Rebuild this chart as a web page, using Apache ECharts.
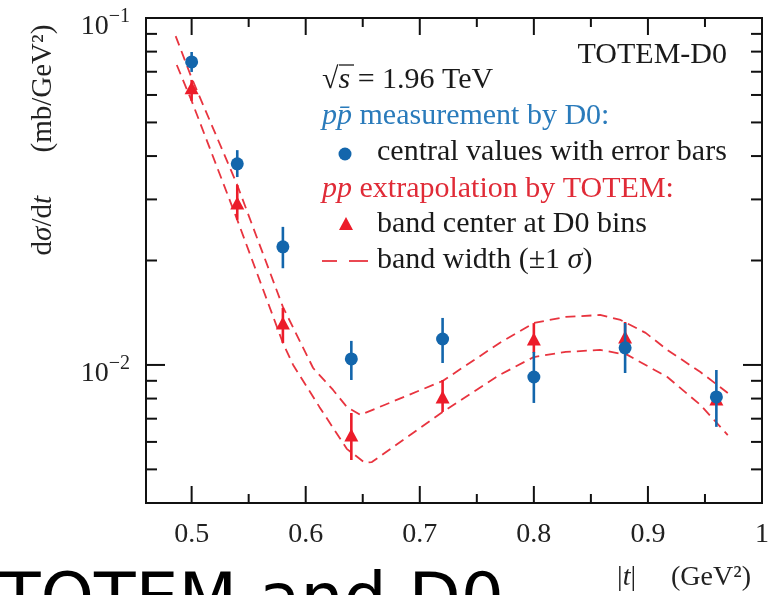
<!DOCTYPE html>
<html><head><meta charset="utf-8">
<script src="https://cdn.jsdelivr.net/npm/echarts@6/dist/echarts.min.js"></script>
<style>html,body{margin:0;padding:0;background:#fff}#c{width:782px;height:595px}</style>
</head><body><div id="c"></div>
<script>
// ---- data ----
const tBins = [0.50, 0.54, 0.58, 0.64, 0.72, 0.80, 0.88, 0.96];
const d0Values  = [0.0747, 0.0380, 0.0219, 0.01041, 0.01188, 0.00923, 0.0112, 0.00809];
const d0ErrLow  = [0.0699, 0.0348, 0.0190, 0.00905, 0.01013, 0.00777, 0.00948, 0.00663];
const d0ErrHigh = [0.0798, 0.0416, 0.0250, 0.01173, 0.01366, 0.0109, 0.0132, 0.00967];
const totemValues = [0.0629, 0.0293, 0.0132, 0.00628, 0.00809, 0.01188, 0.01204, 0.00798];
const totemLow    = [0.0577, 0.0262, 0.01157, 0.00532, 0.00732, 0.01083, 0.01105, 0.00767];
const totemHigh   = [0.0663, 0.0330, 0.0146, 0.00727, 0.00905, 0.0132, 0.0133, 0.00836];
const bandUpperT = [0.486, 0.500, 0.540, 0.580, 0.6065, 0.624, 0.636, 0.648, 0.720, 0.770, 0.800, 0.828, 0.858, 0.876, 0.898, 0.917, 0.946, 0.970];
const bandUpperV = [0.0887, 0.0672, 0.0330, 0.0147, 0.0098, 0.00847, 0.00757, 0.00718, 0.00899, 0.01157, 0.01321, 0.01375, 0.01393, 0.01348, 0.01237, 0.01105, 0.00954, 0.00830];
const bandLowerT = [0.487, 0.500, 0.540, 0.580, 0.589, 0.612, 0.636, 0.652, 0.658, 0.720, 0.770, 0.800, 0.828, 0.858, 0.882, 0.917, 0.946, 0.970];
const bandLowerV = [0.0732, 0.0577, 0.0262, 0.01157, 0.0100, 0.00757, 0.00573, 0.00522, 0.00525, 0.00732, 0.00936, 0.01054, 0.01090, 0.01105, 0.01069, 0.00923, 0.00767, 0.00628];
const xMajorTicks = [0.5, 0.6, 0.7, 0.8, 0.9, 1.0];
const xMinorTicks = [0.55, 0.65, 0.75, 0.85, 0.95];
const yMajorTicks = [0.01, 0.1];
const yMinorTicks = [0.005, 0.006, 0.007, 0.008, 0.009, 0.02, 0.03, 0.04, 0.05, 0.06, 0.07, 0.08, 0.09];

// ---- style ----
const BLUE = '#1366ac', BLUE_T = '#2a7bbb', RED = '#ec1c2a', RED_L = '#e8343f', RED_T = '#e02b37';
const SERIF = '"Liberation Serif", "Times New Roman", serif';
const TXT = '#1a1a1a';

const zip = (a, b) => a.map((v, i) => [v, b[i]]);

function errRender(color) {
  return function (params, api) {
    const p1 = api.coord([api.value(0), api.value(1)]);
    const p2 = api.coord([api.value(0), api.value(2)]);
    return { type: 'line', shape: { x1: p1[0], y1: p1[1], x2: p2[0], y2: p2[1] },
      style: { stroke: color, lineWidth: 2.6 } };
  };
}
function xTickRender(len) {
  return function (params, api) {
    const cs = params.coordSys;
    const x = api.coord([api.value(0), 0.01])[0];
    const b = cs.y + cs.height, t = cs.y;
    return { type: 'group', children: [
      { type: 'line', shape: { x1: x, y1: b, x2: x, y2: b - len }, style: { stroke: '#111', lineWidth: 2 } },
      { type: 'line', shape: { x1: x, y1: t, x2: x, y2: t + len }, style: { stroke: '#111', lineWidth: 2 } }
    ] };
  };
}
function yTickRender(len) {
  return function (params, api) {
    const cs = params.coordSys;
    const y = api.coord([0.7, api.value(1)])[1];
    const l = cs.x, r = cs.x + cs.width;
    return { type: 'group', children: [
      { type: 'line', shape: { x1: l, y1: y, x2: l + len, y2: y }, style: { stroke: '#111', lineWidth: 2 } },
      { type: 'line', shape: { x1: r, y1: y, x2: r - len, y2: y }, style: { stroke: '#111', lineWidth: 2 } }
    ] };
  };
}

function legText(x, y, text, fill, align, rich) {
  return { type: 'text', x: x, y: y, silent: true,
    style: { text: text, fill: fill, fontFamily: SERIF, fontSize: 30,
      align: align || 'left', textAlign: align || 'left', verticalAlign: 'middle', textVerticalAlign: 'middle',
      rich: rich || {} } };
}
function richI(color) {
  return { i: { fontFamily: SERIF, fontSize: 30, fontStyle: 'italic', fill: color } };
}

const chart = echarts.init(document.getElementById('c'), null, { renderer: 'canvas' });
chart.setOption({
  animation: false,
  backgroundColor: '#fff',
  grid: { left: 146, top: 18, width: 616, height: 485, show: true, borderColor: '#111', borderWidth: 2, backgroundColor: 'transparent' },
  xAxis: {
    type: 'value', min: 0.46, max: 1.0,
    axisLine: { show: false }, axisTick: { show: false }, splitLine: { show: false },
    axisLabel: {
      margin: 18, fontFamily: SERIF, fontSize: 28, color: '#222',
      formatter: function (v) {
        const r = Math.round(v * 10) / 10;
        if (Math.abs(v - r) > 1e-6 || r < 0.5) return '';
        return r === 1 ? '1' : r.toFixed(1);
      }
    }
  },
  yAxis: {
    type: 'log', logBase: 10, min: 0.004, max: 0.1,
    axisLine: { show: false }, axisTick: { show: false }, splitLine: { show: false }, minorTick: { show: false },
    axisLabel: {
      margin: 16, color: '#222', padding: [11, 0, 0, 0],
      formatter: function (v) {
        const l = Math.log10(v), e = Math.round(l);
        if (Math.abs(l - e) > 0.01) return '';
        return '{b|10}{s|\u2212' + (-e) + '}';
      },
      rich: {
        b: { fontFamily: SERIF, fontSize: 28, color: '#222', verticalAlign: 'bottom', lineHeight: 34 },
        s: { fontFamily: SERIF, fontSize: 20, color: '#222', verticalAlign: 'top', lineHeight: 15 }
      }
    }
  },
  series: [
    { type: 'line', data: zip(bandUpperT, bandUpperV), symbol: 'none', z: 2,
      lineStyle: { color: RED_L, width: 1.8, type: [10, 6] } },
    { type: 'line', data: zip(bandLowerT, bandLowerV), symbol: 'none', z: 2,
      lineStyle: { color: RED_L, width: 1.8, type: [10, 6] } },
    { type: 'custom', renderItem: errRender(RED), z: 3,
      data: tBins.map((t, i) => [t, totemLow[i], totemHigh[i]]) },
    { type: 'scatter', data: zip(tBins, totemValues), symbol: 'triangle', symbolSize: [14, 13], z: 4,
      itemStyle: { color: RED, opacity: 1 } },
    { type: 'custom', renderItem: errRender(BLUE), z: 5,
      data: tBins.map((t, i) => [t, d0ErrLow[i], d0ErrHigh[i]]) },
    { type: 'scatter', data: zip(tBins, d0Values), symbol: 'circle', symbolSize: 13, z: 6,
      itemStyle: { color: BLUE, opacity: 1 } },
    { type: 'custom', renderItem: xTickRender(17), data: xMajorTicks.map(v => [v, 0.01]), z: 10 },
    { type: 'custom', renderItem: xTickRender(9), data: xMinorTicks.map(v => [v, 0.01]), z: 10 },
    { type: 'custom', renderItem: yTickRender(19), data: yMajorTicks.map(v => [0.7, v]), z: 10 },
    { type: 'custom', renderItem: yTickRender(11), data: yMinorTicks.map(v => [0.7, v]), z: 10 }
  ],
  graphic: [
    // legend / annotation block
    legText(727, 55, 'TOTEM-D0', TXT, 'right'),
    legText(322, 80, '\u221A{i|s} = 1.96 TeV', TXT, 'left', richI(TXT)),
    { type: 'line', silent: true, shape: { x1: 339, y1: 65, x2: 354, y2: 65 }, style: { stroke: TXT, lineWidth: 1.3 } },
    legText(322, 116, '{i|pp\u0304} measurement by D0:', BLUE_T, 'left', richI(BLUE_T)),
    { type: 'circle', silent: true, shape: { cx: 345, cy: 154, r: 6.5 }, style: { fill: BLUE } },
    legText(377, 152, 'central values with error bars', TXT),
    legText(322, 189, '{i|pp} extrapolation by TOTEM:', RED_T, 'left', richI(RED_T)),
    { type: 'polygon', silent: true, shape: { points: [[346, 217], [339, 230], [353, 230]] }, style: { fill: RED } },
    legText(377, 224, 'band center at D0 bins', TXT),
    { type: 'line', silent: true, shape: { x1: 322, y1: 261, x2: 337, y2: 261 }, style: { stroke: RED_L, lineWidth: 1.8 } },
    { type: 'line', silent: true, shape: { x1: 349, y1: 261, x2: 368, y2: 261 }, style: { stroke: RED_L, lineWidth: 1.8 } },
    legText(377, 260, 'band width (\u00B11 {i|\u03C3})', TXT, 'left', richI(TXT)),
    // axis titles
    { type: 'text', x: 684, y: 578, silent: true,
      style: { text: '|{i|t}|\u2003 (GeV\u00B2)', fill: '#222', fontFamily: SERIF, fontSize: 28,
        align: 'center', textAlign: 'center', verticalAlign: 'middle', textVerticalAlign: 'middle',
        rich: { i: { fontFamily: SERIF, fontSize: 28, fontStyle: 'italic', fill: '#222' } } } },
    { type: 'text', x: 43, y: 140, rotation: Math.PI / 2, silent: true,
      style: { text: 'd{i|\u03C3}/d{i|t}\u2003  (mb/GeV\u00B2)', fill: '#222', fontFamily: SERIF, fontSize: 29,
        align: 'center', textAlign: 'center', verticalAlign: 'middle', textVerticalAlign: 'middle',
        rich: { i: { fontFamily: SERIF, fontSize: 29, fontStyle: 'italic', fill: '#222' } } } },
    // big caption
    { type: 'text', x: -1, y: 603, silent: true,
      style: { text: 'TOTEM and D0', fill: '#000', fontFamily: '"DejaVu Sans", sans-serif', fontSize: 68,
        align: 'left', textAlign: 'left', verticalAlign: 'middle', textVerticalAlign: 'middle' } }
  ]
});
</script></body></html>
